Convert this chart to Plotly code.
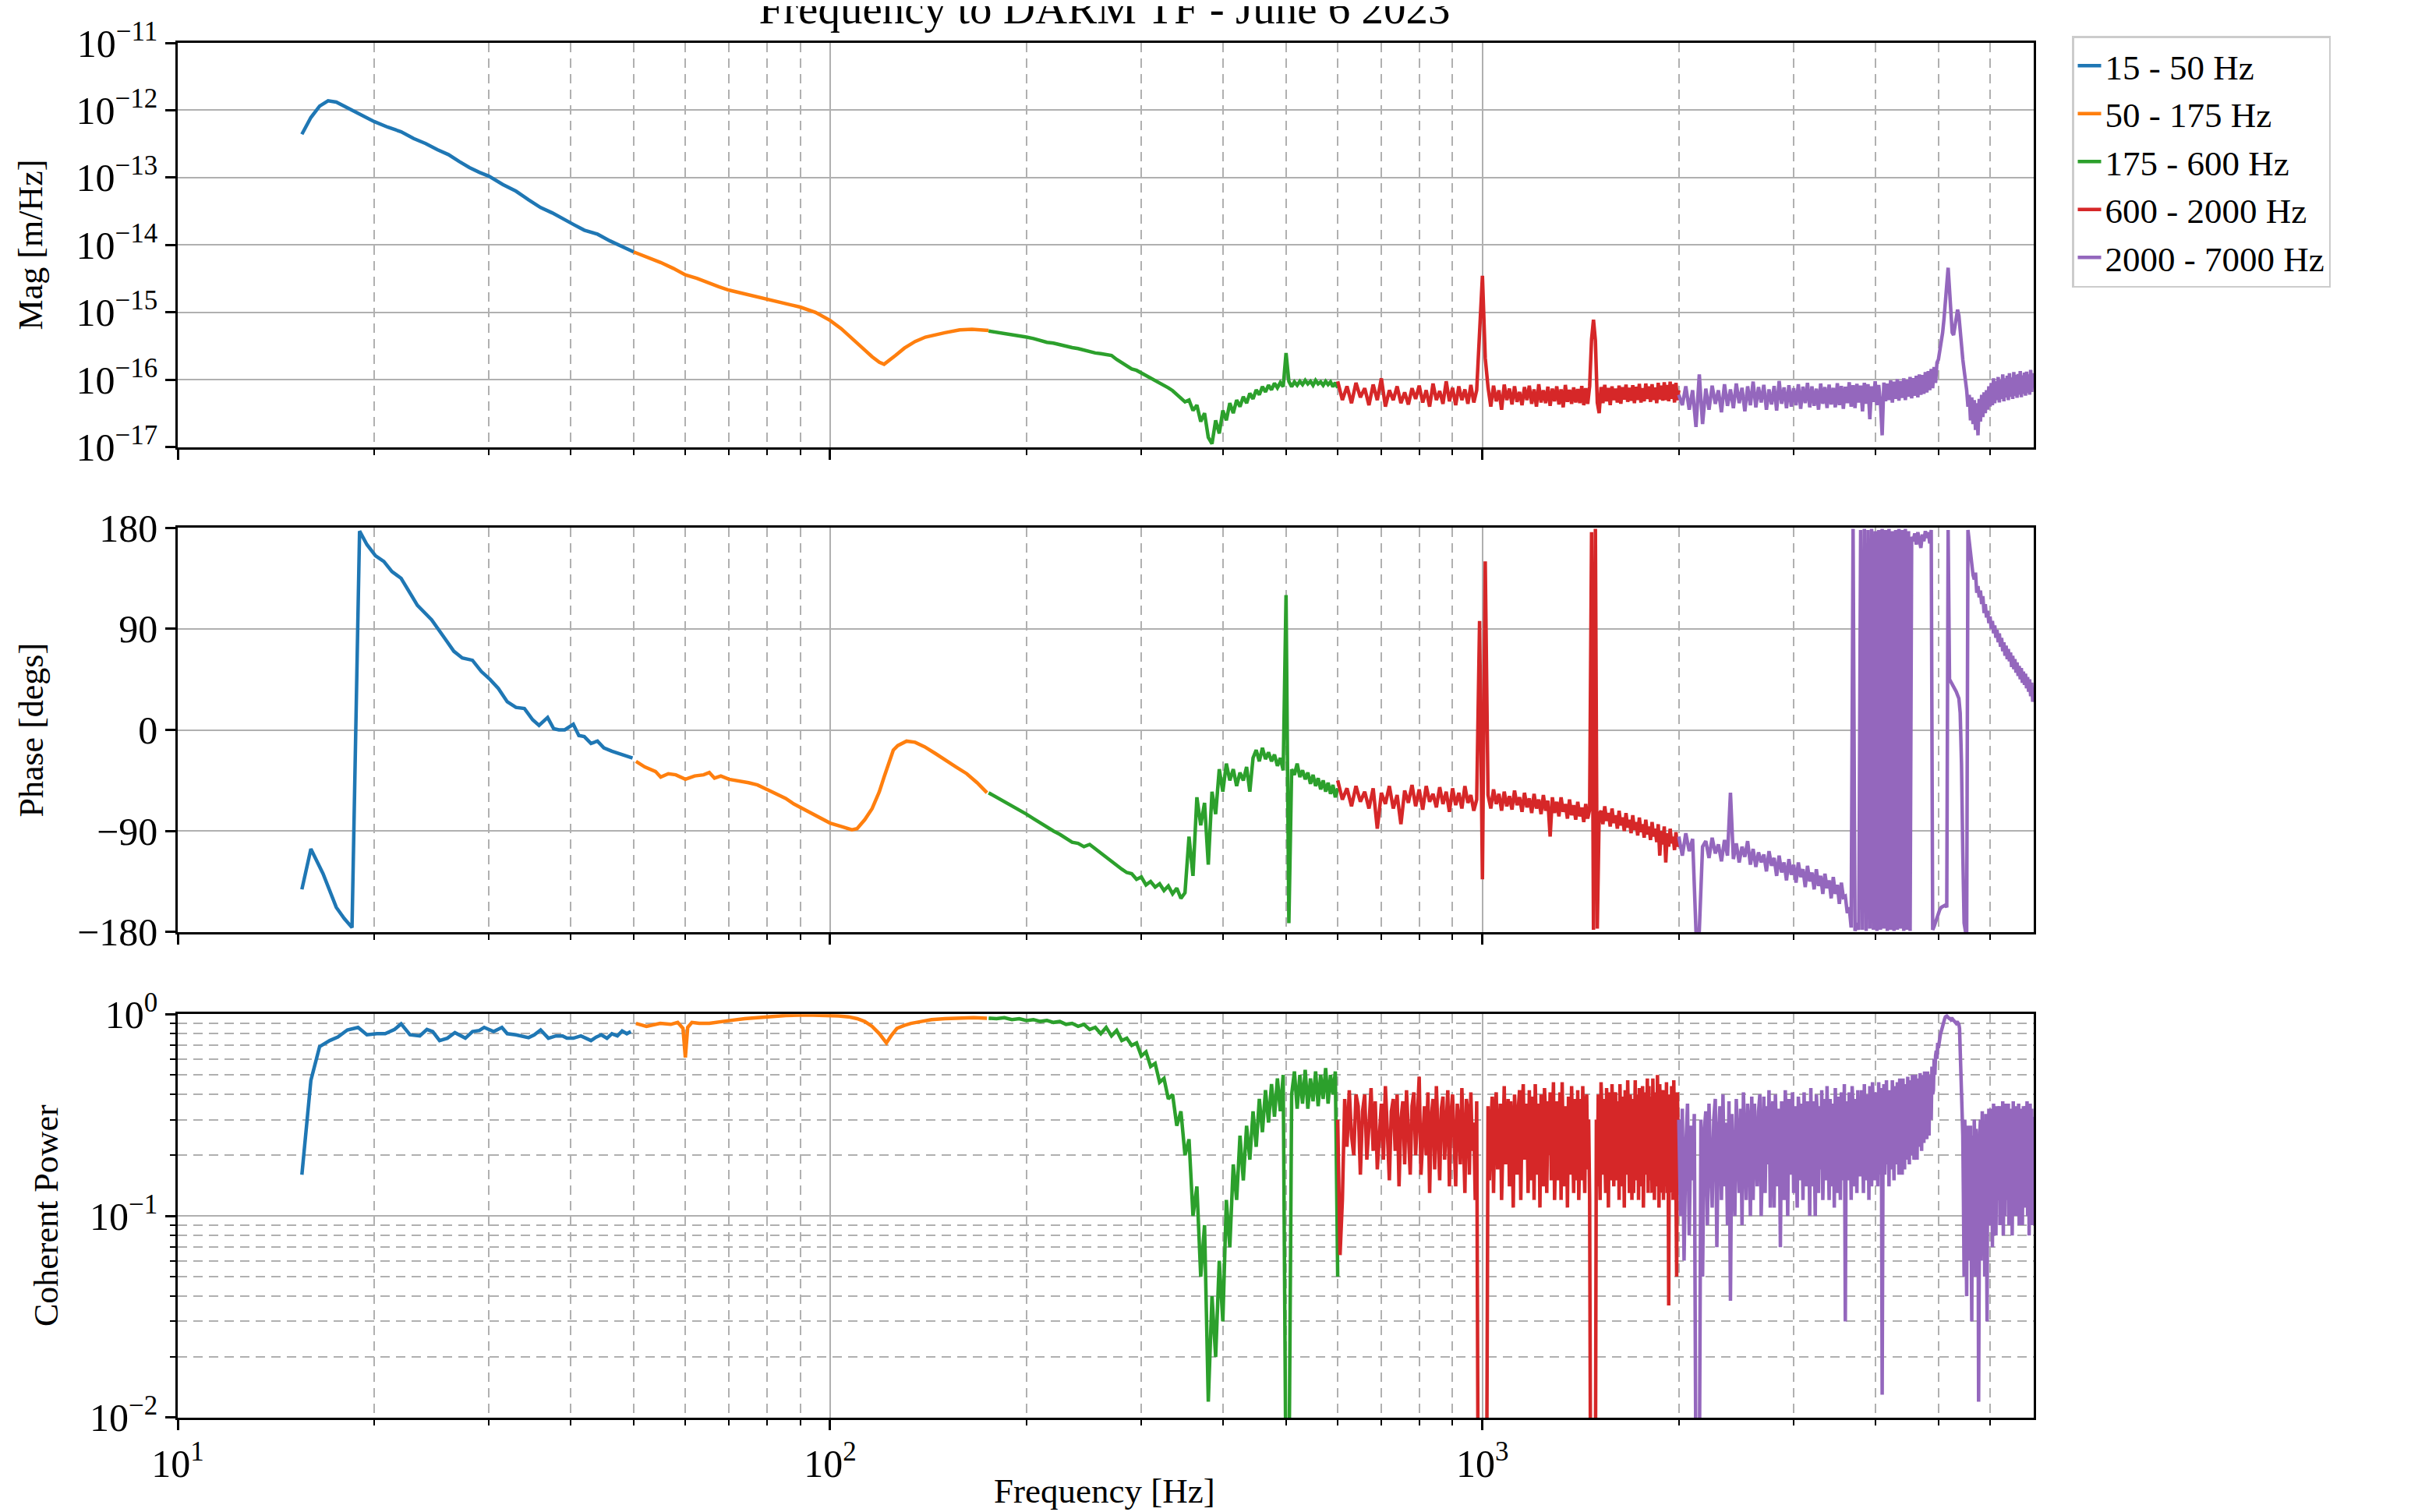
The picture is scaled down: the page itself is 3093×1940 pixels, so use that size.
import numpy as np
import plotly.graph_objects as go
from plotly.subplots import make_subplots

TITLE = "Frequency to DARM TF - June 6 2023"
BANDS = ["15 - 50 Hz", "50 - 175 Hz", "175 - 600 Hz", "600 - 2000 Hz", "2000 - 7000 Hz"]
COLORS = ["#1f77b4", "#ff7f0e", "#2ca02c", "#d62728", "#9467bd"]

# ---------------- 15 - 50 Hz (sparse points) ----------------
B_MAG_F = [15.5, 16.0, 16.5, 17.0, 17.5, 18.0, 18.5, 19.0, 20.0, 21.0, 22.0, 23.0, 24.0, 25.0, 26.0,
           27.0, 28.0, 29.0, 30.0, 31.5, 33.0, 34.5, 36.0, 37.5, 39.0, 40.5, 42.0, 44.0, 46.0, 48.0, 50.0]
B_MAG = [4.4e-13, 7.8e-13, 1.15e-12, 1.38e-12, 1.32e-12, 1.15e-12, 1.0e-12, 8.7e-13, 6.8e-13, 5.6e-13,
         4.8e-13, 3.8e-13, 3.2e-13, 2.6e-13, 2.2e-13, 1.74e-13, 1.41e-13, 1.2e-13, 1.05e-13, 7.9e-14,
         6.3e-14, 4.7e-14, 3.6e-14, 3.0e-14, 2.4e-14, 2.0e-14, 1.66e-14, 1.45e-14, 1.15e-14, 9.5e-15, 7.9e-15]
B_PH_F = [15.5, 16.0, 16.7, 17.5, 18.0, 18.5, 19.0, 19.5, 20.1, 20.7, 21.3, 22.0, 23.3, 24.5, 25.7, 26.5,
          27.3, 28.3, 29.2, 30.1, 31.0, 32.0, 33.0, 34.0, 35.0, 35.8, 36.9, 37.7, 38.4, 39.2, 40.4, 41.2,
          42.0, 43.0, 44.0, 45.0, 46.3, 47.5, 49.8]
B_PH = [-142, -106, -128, -158, -168, -176, 177, 165, 155, 150, 141, 135, 111, 98, 81, 70,
        64, 62, 52, 45, 37, 25, 20, 19, 9, 4, 11, 1, 0, 0, 5, -5,
        -6, -12, -10, -16, -19, -21, -25]
B_COH_F = [15.5, 16.0, 16.5, 17.1, 17.6, 18.2, 18.9, 19.5, 20.2, 20.8, 21.5, 22.0, 22.7, 23.5, 24.1,
           24.6, 25.2, 25.9, 26.6, 27.6, 28.3, 29.0, 29.5, 30.5, 31.4, 32.0, 33.0, 34.5, 35.2, 36.0,
           37.0, 38.0, 38.9, 39.5, 40.4, 41.5, 43.0, 43.8, 44.6, 45.5, 46.3, 47.2, 48.0, 48.8, 49.5]
B_COH = [0.16, 0.47, 0.69, 0.74, 0.77, 0.835, 0.86, 0.79, 0.80, 0.80, 0.84, 0.895, 0.79, 0.78, 0.84,
         0.82, 0.74, 0.76, 0.81, 0.76, 0.82, 0.83, 0.86, 0.82, 0.86, 0.80, 0.79, 0.765, 0.79, 0.835,
         0.76, 0.78, 0.78, 0.76, 0.76, 0.78, 0.74, 0.77, 0.79, 0.76, 0.80, 0.78, 0.825, 0.80, 0.82]

# ---------------- 50 - 175 Hz ----------------
O_MAG_F = [50, 52.5, 55, 57.5, 60, 62.5, 65, 67.5, 70, 75, 80, 85, 90, 95, 100, 104, 108, 112, 116,
           119, 121, 123, 126, 130, 135, 140, 145, 150, 158, 165, 170, 175]
O_MAG = [7.9e-15, 6.6e-15, 5.5e-15, 4.5e-15, 3.6e-15, 3.2e-15, 2.75e-15, 2.4e-15, 2.14e-15, 1.82e-15,
         1.58e-15, 1.38e-15, 1.2e-15, 1.0e-15, 7.6e-16, 5.75e-16, 4.2e-16, 3.0e-16, 2.2e-16, 1.82e-16,
         1.7e-16, 1.9e-16, 2.3e-16, 2.95e-16, 3.7e-16, 4.3e-16, 4.7e-16, 5.0e-16, 5.5e-16, 5.6e-16,
         5.5e-16, 5.4e-16]
O_PH_F = [50.4, 52, 54, 55, 56.5, 58, 60, 62, 64, 65.3, 66.5, 68, 70, 72, 75, 77.4, 80, 83, 85.5, 88,
          92, 96, 100, 104, 108, 110, 113, 116, 119, 121, 123, 125, 127, 131, 135, 139.6, 145, 150,
          156, 162, 168, 174]
O_PH = [-28, -33, -37, -42, -39, -40, -44, -41, -40, -38, -43, -41, -44, -45, -47, -49, -53, -57, -61,
        -66, -72, -78, -83, -86, -89, -88, -80, -70, -55, -42, -30, -18, -14, -10, -11, -15, -21, -27,
        -33, -39, -47, -56]
O_COH_F = [50.4, 52.3, 54.9, 57, 58.4, 59.5, 60, 60.5, 61.4, 63, 65.3, 68, 70.2, 74, 77.4, 81, 85.5,
           92, 99, 103, 106.7, 110, 113, 116, 119, 121, 122, 124, 126.6, 130, 133, 138, 143, 150, 158,
           166, 174]
O_COH = [0.90, 0.87, 0.90, 0.89, 0.91, 0.85, 0.61, 0.86, 0.91, 0.90, 0.90, 0.92, 0.93, 0.95, 0.96,
         0.975, 0.985, 0.99, 0.985, 0.98, 0.97, 0.95, 0.92, 0.87, 0.80, 0.74, 0.72, 0.78, 0.85, 0.88,
         0.90, 0.92, 0.94, 0.95, 0.96, 0.96, 0.955]

# ---------------- 175 - 600 Hz (5 Hz bins) ----------------
G_F0, G_F1 = 175, 600
G_MAG_E17 = [53, 51, 49, 47, 45, 43, 41, 38, 36, 35,
             33, 32, 30, 29, 27.5, 26, 25, 24.5, 24, 23,
             20, 17.8, 15.8, 14.5, 13.8, 12.6, 11.7, 10.7, 10.0, 8.9,
             8.3, 7.6, 6.9, 6.0, 5.4, 4.7, 5.0, 3.5, 4.2, 2.4,
             3.2, 1.4, 1.12, 2.5, 1.6, 3.5, 2.5, 4.5, 3.2, 5.0,
             4.0, 5.6, 4.5, 6.3, 5.2, 7.1, 6.0, 7.9, 6.6, 8.3,
             7.1, 8.9, 7.6, 9.1, 7.9, 25, 9.5, 7.9, 9.3, 8.3,
             9.5, 8.5, 9.8, 8.7, 9.5, 8.3, 9.8, 8.7, 9.3, 8.3,
             9.5, 8.5, 9.3, 7.9, 9.1, 7.6]
G_PH = [-56, -60, -64, -68, -71, -75, -79, -83, -86, -90,
        -93, -97, -100, -101, -104, -102, -106, -110, -113, -117,
        -121, -124, -127, -128, -133, -131, -138, -135, -140, -137,
        -143, -139, -146, -141, -150, -145, -95, -130, -60, -85,
        -65, -120, -55, -75, -35, -55, -30, -45, -35, -50,
        -38, -45, -33, -55, -25, -18, -28, -16, -26, -20,
        -28, -22, -32, -25, -36, 120, -172, -35, -40, -30,
        -42, -36, -44, -38, -48, -40, -50, -43, -53, -45,
        -55, -47, -57, -49, -60, -52]
G_COH = [0.955, 0.95, 0.96, 0.94, 0.95, 0.93, 0.94, 0.92, 0.93, 0.91,
         0.92, 0.89, 0.90, 0.87, 0.89, 0.84, 0.86, 0.80, 0.86, 0.78,
         0.83, 0.74, 0.76, 0.70, 0.72, 0.62, 0.65, 0.55, 0.57, 0.46,
         0.48, 0.38, 0.40, 0.28, 0.33, 0.20, 0.24, 0.10, 0.14, 0.05,
         0.09, 0.012, 0.04, 0.02, 0.06, 0.03, 0.12, 0.07, 0.18, 0.12,
         0.25, 0.15, 0.28, 0.19, 0.33, 0.22, 0.38, 0.26, 0.42, 0.29,
         0.45, 0.31, 0.48, 0.33, 0.50, 0.004, 0.004, 0.40, 0.52, 0.34,
         0.50, 0.36, 0.53, 0.34, 0.48, 0.37, 0.52, 0.35, 0.50, 0.38,
         0.54, 0.36, 0.50, 0.40, 0.52, 0.05]

# ---------------- 600 - 2000 Hz (mag/phase: 10 Hz bins, coherence: 5 Hz bins) ----------------
R_F0, R_F1 = 600, 2000
R_MAG_E17 = [9.5, 5.0, 8.0, 4.5, 9.0, 5.5, 7.5, 4.2, 8.5, 5.0,
             10.5, 4.0, 7.0, 5.0, 8.0, 4.5, 6.5, 4.3, 7.5, 5.2,
             8.2, 4.6, 7.0, 4.0, 8.8, 5.0, 6.8, 4.4, 9.5, 4.8,
             7.6, 4.2, 8.0, 5.0, 7.2, 4.4, 8.4, 4.6, 7.0, 50,
             350, 21, 7.8, 4.0, 8.2, 4.8, 7.0, 3.6, 8.5, 5.0,
             7.4, 4.3, 8.0, 4.7, 6.6, 4.2, 7.8, 5.0, 8.2, 4.4,
             7.2, 4.0, 8.6, 4.6, 7.0, 4.5, 7.9, 4.1, 7.4, 4.8,
             8.0, 4.3, 7.2, 3.9, 8.4, 4.7, 7.1, 4.4, 7.7, 4.6,
             7.3, 4.5, 8.1, 4.2, 7.5, 4.4, 8.0, 40, 78, 38,
             4.6, 3.2, 7.8, 4.5, 8.4, 4.8, 7.6, 4.2, 8.0, 5.0,
             7.4, 4.6, 8.2, 4.4, 7.8, 5.1, 8.5, 4.7, 7.6, 4.9,
             8.3, 4.5, 7.9, 5.0, 8.7, 4.6, 7.5, 4.8, 8.8, 5.2,
             8.0, 4.7, 8.6, 5.0, 7.7, 4.5, 9.0, 5.1, 8.2, 4.9,
             9.2, 5.0, 8.4, 4.8, 9.4, 5.2, 8.6, 4.6, 9.0, 5.0,
             7.0]
R_PH = [-45, -62, -52, -68, -50, -64, -55, -70, -52, -88,
        -56, -66, -50, -70, -58, -84, -54, -65, -49, -68,
        -53, -71, -50, -64, -57, -69, -51, -66, -55, -73,
        -52, -67, -56, -70, -50, -65, -58, -72, -62, 97,
        -133, 150, -58, -70, -53, -66, -57, -72, -55, -68,
        -59, -71, -54, -67, -60, -73, -56, -69, -61, -74,
        -57, -70, -62, -75, -58, -72, -63, -95, -60, -74,
        -64, -77, -60, -73, -66, -79, -62, -76, -67, -80,
        -64, -77, -69, -82, -66, -79, -71, 176, -178, 179,
        -177, -75, -72, -84, -68, -81, -74, -86, -70, -83,
        -76, -88, -72, -85, -78, -90, -74, -87, -80, -92,
        -76, -89, -82, -94, -78, -91, -84, -96, -80, -93,
        -86, -98, -82, -95, -88, -100, -84, -112, -90, -102,
        -86, -118, -92, -104, -88, -101, -95, -107, -91, -104,
        -100]
R_COH = [0.30, 0.064, 0.12, 0.38, 0.22, 0.42, 0.25, 0.20, 0.40, 0.35, 0.16, 0.33, 0.40, 0.19, 0.28, 0.43, 0.21, 0.37, 0.17, 0.24,
         0.36, 0.19, 0.44, 0.26, 0.15, 0.33, 0.38, 0.21, 0.40, 0.14, 0.30, 0.37, 0.18, 0.42, 0.23, 0.16, 0.35, 0.41, 0.20, 0.29,
         0.49, 0.16, 0.27, 0.35, 0.20, 0.41, 0.13, 0.31, 0.38, 0.17, 0.44, 0.24, 0.15, 0.34, 0.39, 0.19, 0.27, 0.42, 0.14, 0.32,
         0.40, 0.22, 0.14, 0.36, 0.30, 0.18, 0.43, 0.25, 0.13, 0.38, 0.33, 0.16, 0.41, 0.21, 0.29, 0.12, 0.37, 0.004, 0.004, 0.004,
         0.004, 0.004, 0.004, 0.004, 0.35, 0.15, 0.27, 0.39, 0.13, 0.33, 0.41, 0.17, 0.24, 0.36, 0.12, 0.30, 0.44, 0.18, 0.26, 0.38,
         0.14, 0.37, 0.25, 0.11, 0.40, 0.29, 0.16, 0.34, 0.42, 0.12, 0.31, 0.45, 0.19, 0.27, 0.36, 0.13, 0.42, 0.23, 0.15, 0.39,
         0.12, 0.45, 0.28, 0.16, 0.36, 0.11, 0.40, 0.24, 0.14, 0.43, 0.31, 0.13, 0.37, 0.20, 0.41, 0.15, 0.33, 0.46, 0.12, 0.28,
         0.37, 0.15, 0.25, 0.41, 0.12, 0.46, 0.22, 0.14, 0.35, 0.30, 0.11, 0.39, 0.26, 0.16, 0.44, 0.21, 0.13, 0.38, 0.32, 0.15,
         0.42, 0.12, 0.29, 0.38, 0.15, 0.44, 0.23, 0.13, 0.36, 0.40, 0.17, 0.30, 0.12, 0.004, 0.004, 0.004, 0.004, 0.004, 0.004, 0.30,
         0.14, 0.40, 0.25, 0.12, 0.46, 0.33, 0.16, 0.38, 0.22, 0.13, 0.43, 0.29, 0.11, 0.41, 0.35, 0.15, 0.45, 0.20, 0.14, 0.39,
         0.41, 0.15, 0.31, 0.37, 0.12, 0.45, 0.24, 0.14, 0.39, 0.28, 0.11, 0.42, 0.34, 0.16, 0.47, 0.21, 0.13, 0.40, 0.30, 0.12,
         0.38, 0.13, 0.27, 0.47, 0.15, 0.40, 0.33, 0.12, 0.43, 0.22, 0.14, 0.36, 0.44, 0.11, 0.31, 0.41, 0.16, 0.25, 0.48, 0.13,
         0.44, 0.15, 0.29, 0.39, 0.13, 0.48, 0.26, 0.12, 0.41, 0.35, 0.14, 0.50, 0.23, 0.11, 0.45, 0.30, 0.13, 0.42, 0.37, 0.12,
         0.42, 0.14, 0.31, 0.46, 0.13, 0.36, 0.036, 0.40, 0.25, 0.13, 0.44, 0.33, 0.12, 0.47, 0.22, 0.38, 0.14, 0.05, 0.41, 0.26,
         0.30]

# ---------------- 2000 - 7000 Hz (mag/phase: 25 Hz bins, coherence: 12.5 Hz bins) ----------------
P_F0, P_F1 = 2000, 7000
P_MAG_E17 = [6.0, 4.2, 8.0, 3.6, 7.0, 2.0, 12, 2.2,
             7.4, 3.6, 8.2, 4.4, 7.0, 3.3, 8.6, 4.1,
             7.2, 3.8, 8.8, 4.5, 7.6, 3.4, 8.0, 4.2,
             9.4, 3.9, 7.8, 4.6, 8.4, 3.6, 7.2, 4.3,
             8.1, 3.5, 9.6, 4.4, 7.7, 3.8, 8.3, 4.0,
             7.5, 4.2, 8.6, 3.7, 7.9, 4.5, 9.0, 3.9,
             8.0, 4.1, 7.4, 3.6, 8.8, 4.4, 7.8, 3.8,
             8.5, 4.3, 7.6, 3.9, 8.9, 4.2, 8.1, 3.7,
             7.9, 4.5, 9.2, 4.0, 8.3, 3.8, 8.7, 4.6,
             8.2, 3.4, 9.0, 4.4, 8.6, 2.6, 8.0, 4.7,
             9.5, 4.2, 8.4, 4.6, 1.5, 9.1, 4.8, 8.8,
             5.0, 9.8, 4.6, 9.4, 5.2, 10.2, 4.9, 9.6,
             5.4, 10.5, 5.0, 10.0, 5.6, 11.0, 5.3, 10.6,
             5.8, 11.5, 5.5, 12.0, 6.0, 11.8, 6.2, 13.0,
             6.5, 13.5, 7.0, 14.5, 7.5, 15.5, 9.0, 18,
             20, 26, 35, 50, 80, 150, 300, 460,
             220, 90, 50, 46, 60, 80, 110, 90,
             50, 30, 20, 14, 10, 7.0, 4.0, 6.0,
             2.5, 5.5, 2.2, 5.0, 1.8, 4.5, 1.5, 5.2,
             2.4, 6.0, 2.8, 6.5, 3.2, 7.0, 3.6, 8.0,
             4.0, 9.0, 4.2, 10.5, 4.5, 9.5, 5.0, 11,
             4.6, 10, 5.2, 12, 4.8, 10.5, 5.5, 11.5,
             5.0, 12.5, 5.6, 10.8, 5.2, 13, 5.8, 11.8,
             5.4, 12.2, 6.0, 13.5, 5.5, 11.6, 6.2, 12.8,
             5.8, 13.2, 6.4, 12.0, 6.0, 14, 6.6, 12.5,
             9.0]
P_PH = [-95, -112, -92, -108, -97, -179, -179, -104,
        -99, -114, -96, -110, -102, -117, -98, -112,
        -56, -115, -101, -118, -104, -113, -99, -120,
        -106, -122, -109, -118, -111, -126, -108, -121,
        -114, -130, -112, -127, -118, -134, -115, -129,
        -120, -136, -118, -131, -124, -140, -121, -135,
        -127, -142, -124, -139, -130, -146, -128, -141,
        -134, -150, -131, -146, -138, -155, -136, -149,
        -148, -163, -158, -176, 179, -179, -172, -178,
        178, -178, 179, -179, 178, -177, 179, -178,
        177, -179, 178, -178, 179, -177, 178, -179,
        179, -178, 177, -179, 178, -178, 179, -177,
        178, -179, 179, -178, 177, -179, 172, 168,
        175, 165, 176, 170, 162, 174, 168, 177,
        171, 176, 166, 178, -178, -175, -171, -166,
        -163, -160, -158, -157, -156, -156, -158, 178,
        45, 43, 41, 39, 37, 34, 31, 28,
        15, -30, -110, -172, -179, -179, 178, 166,
        158, 150, 138, 134, 140, 122, 128, 118,
        124, 112, 119, 104, 112, 100, 106, 95,
        101, 90, 97, 86, 93, 82, 89, 78,
        86, 74, 82, 70, 78, 66, 75, 63,
        72, 61, 69, 56, 66, 54, 63, 51,
        60, 48, 57, 45, 55, 42, 52, 40,
        50, 37, 47, 34, 45, 30, 42, 25,
        35]
P_COH = [0.30, 0.10, 0.34, 0.06, 0.22, 0.36, 0.08, 0.28, 0.15, 0.32, 0.004, 0.004, 0.004, 0.30, 0.05, 0.26,
         0.33, 0.09, 0.36, 0.18, 0.11, 0.30, 0.38, 0.07, 0.25, 0.35, 0.12, 0.40, 0.14, 0.29, 0.09, 0.37,
         0.038, 0.32, 0.16, 0.10, 0.38, 0.24, 0.13, 0.34, 0.09, 0.41, 0.20, 0.12, 0.36, 0.28, 0.10, 0.39,
         0.12, 0.36, 0.22, 0.14, 0.33, 0.40, 0.10, 0.27, 0.39, 0.13, 0.35, 0.18, 0.42, 0.11, 0.30, 0.37,
         0.11, 0.40, 0.25, 0.14, 0.34, 0.07, 0.37, 0.21, 0.12, 0.42, 0.29, 0.10, 0.38, 0.16, 0.33, 0.41,
         0.13, 0.35, 0.24, 0.11, 0.39, 0.30, 0.15, 0.36, 0.12, 0.41, 0.20, 0.14, 0.37, 0.27, 0.10, 0.43,
         0.14, 0.37, 0.22, 0.10, 0.40, 0.31, 0.13, 0.35, 0.17, 0.42, 0.12, 0.29, 0.38, 0.15, 0.44, 0.23,
         0.12, 0.38, 0.26, 0.14, 0.36, 0.11, 0.43, 0.19, 0.13, 0.39, 0.32, 0.12, 0.41, 0.24, 0.15, 0.45,
         0.03, 0.37, 0.21, 0.15, 0.41, 0.28, 0.12, 0.44, 0.34, 0.14, 0.38, 0.19, 0.13, 0.42, 0.30, 0.16,
         0.16, 0.42, 0.27, 0.13, 0.45, 0.22, 0.15, 0.40, 0.33, 0.12, 0.44, 0.25, 0.14, 0.46, 0.30, 0.17,
         0.15, 0.41, 0.26, 0.14, 0.46, 0.31, 0.16, 0.43, 0.013, 0.22, 0.45, 0.16, 0.35, 0.47, 0.18, 0.29,
         0.14, 0.42, 0.31, 0.17, 0.47, 0.24, 0.15, 0.44, 0.36, 0.18, 0.46, 0.27, 0.16, 0.48, 0.33, 0.19,
         0.16, 0.48, 0.29, 0.17, 0.45, 0.38, 0.19, 0.49, 0.26, 0.18, 0.47, 0.35, 0.20, 0.50, 0.30, 0.19,
         0.20, 0.50, 0.34, 0.19, 0.48, 0.28, 0.22, 0.51, 0.39, 0.21, 0.50, 0.31, 0.23, 0.52, 0.40, 0.24,
         0.24, 0.52, 0.36, 0.25, 0.50, 0.42, 0.30, 0.55, 0.40, 0.42, 0.60, 0.50, 0.62, 0.66, 0.60, 0.72,
         0.68, 0.74, 0.75, 0.80, 0.82, 0.85, 0.88, 0.91, 0.93, 0.95, 0.97, 0.98, 0.98, 0.97, 0.96, 0.96,
         0.95, 0.95, 0.94, 0.95, 0.95, 0.94, 0.93, 0.93, 0.92, 0.91, 0.90, 0.91, 0.91, 0.90, 0.89, 0.85,
         0.65, 0.55, 0.40, 0.33, 0.25, 0.12, 0.05, 0.30, 0.22, 0.08, 0.04, 0.28, 0.26, 0.10, 0.06, 0.24,
         0.28, 0.09, 0.03, 0.25, 0.15, 0.07, 0.30, 0.20, 0.05, 0.27, 0.22, 0.08, 0.18, 0.012, 0.20, 0.26,
         0.30, 0.06, 0.22, 0.33, 0.08, 0.18, 0.28, 0.05, 0.25, 0.32, 0.09, 0.03, 0.30, 0.15, 0.34, 0.10,
         0.34, 0.09, 0.25, 0.31, 0.07, 0.20, 0.36, 0.10, 0.28, 0.30, 0.08, 0.22, 0.35, 0.12, 0.27, 0.33,
         0.35, 0.09, 0.24, 0.33, 0.11, 0.30, 0.37, 0.08, 0.22, 0.32, 0.10, 0.29, 0.36, 0.12, 0.26, 0.34,
         0.36, 0.09, 0.27, 0.34, 0.12, 0.21, 0.31, 0.08, 0.30, 0.37, 0.11, 0.25, 0.33, 0.10, 0.28, 0.35,
         0.33, 0.10, 0.26, 0.36, 0.09, 0.24, 0.34, 0.12, 0.29, 0.30, 0.09, 0.22, 0.35, 0.11, 0.27, 0.32,
         0.35, 0.11, 0.28, 0.37, 0.10, 0.23, 0.33, 0.08, 0.26, 0.36, 0.12, 0.30, 0.34, 0.09, 0.25, 0.31,
         0.09]

X_MAJOR = [10, 100, 1000]
X_MAJOR_TEXT = ["10<sup>1</sup>", "10<sup>2</sup>", "10<sup>3</sup>"]
X_MINOR = [20, 30, 40, 50, 60, 70, 80, 90, 200, 300, 400, 500, 600, 700, 800, 900,
           2000, 3000, 4000, 5000, 6000]
MAG_TICKS = [1e-17, 1e-16, 1e-15, 1e-14, 1e-13, 1e-12, 1e-11]
MAG_TEXT = ["10<sup>\u221217</sup>", "10<sup>\u221216</sup>", "10<sup>\u221215</sup>",
            "10<sup>\u221214</sup>", "10<sup>\u221213</sup>", "10<sup>\u221212</sup>",
            "10<sup>\u221211</sup>"]
PH_TICKS = [-180, -90, 0, 90, 180]
PH_TEXT = ["\u2212180", "\u221290", "0", "90", "180"]
COH_TICKS = [0.01, 0.1, 1.0]
COH_TEXT = ["10<sup>\u22122</sup>", "10<sup>\u22121</sup>", "10<sup>0</sup>"]
COH_MINOR = [0.02, 0.03, 0.04, 0.05, 0.06, 0.07, 0.08, 0.09, 0.2, 0.3, 0.4, 0.5, 0.6, 0.7, 0.8, 0.9]


def grid(f0, f1, vals):
    # uniformly spaced measurement bins spanning the band
    return np.linspace(f0, f1, len(vals))


g_mag = np.array(G_MAG_E17) * 1e-17
r_mag = np.array(R_MAG_E17) * 1e-17
p_mag = np.array(P_MAG_E17) * 1e-17

SERIES = [
    (B_MAG_F, B_MAG, B_PH_F, B_PH, B_COH_F, B_COH),
    (O_MAG_F, O_MAG, O_PH_F, O_PH, O_COH_F, O_COH),
    (grid(G_F0, G_F1, G_MAG_E17), g_mag, grid(G_F0, G_F1, G_PH), G_PH, grid(G_F0, G_F1, G_COH), G_COH),
    (grid(R_F0, R_F1, R_MAG_E17), r_mag, grid(R_F0, R_F1, R_PH), R_PH, grid(R_F0, R_F1, R_COH), R_COH),
    (grid(P_F0, P_F1, P_MAG_E17), p_mag, grid(P_F0, P_F1, P_PH), P_PH, grid(P_F0, P_F1, P_COH), P_COH),
]

FONT = "Liberation Serif"
LW = 4.5

fig = make_subplots(rows=3, cols=1, shared_xaxes=True)
for i, (mf, mv, pf, pv, cf, cv) in enumerate(SERIES):
    for row, (xf, yv) in enumerate([(mf, mv), (pf, pv), (cf, cv)], start=1):
        fig.add_trace(go.Scatter(x=list(xf), y=list(yv), mode="lines", name=BANDS[i],
                                 legendgroup=BANDS[i], showlegend=(row == 1),
                                 line=dict(color=COLORS[i], width=LW)),
                      row=row, col=1)

W, H = 3093, 1940
L, R, T, B = 220, 492, 36, 129
PH_ = H - T - B
PW = W - L - R


def dom(top_px, bot_px):
    return [(H - B - bot_px) / PH_, (H - B - top_px) / PH_]


GRID = "#b0b0b0"
TICKFONT = dict(family=FONT, size=50, color="black")
common_x = dict(type="log", range=[1, np.log10(7000)], tickvals=X_MAJOR, ticktext=X_MAJOR_TEXT,
                ticks="outside", ticklen=13, tickwidth=2.5, tickcolor="black",
                showline=True, mirror=True, linecolor="black", linewidth=2.5,
                showgrid=True, gridcolor=GRID, gridwidth=2, zeroline=False,
                tickfont=TICKFONT,
                minor=dict(tickvals=X_MINOR, ticks="outside", ticklen=7, tickwidth=2,
                           tickcolor="black", showgrid=True, gridcolor=GRID, gridwidth=2,
                           griddash="12px,8px"))
common_y = dict(ticks="outside", ticklen=13, tickwidth=2.5, tickcolor="black",
                showline=True, mirror=True, linecolor="black", linewidth=2.5,
                showgrid=True, gridcolor=GRID, gridwidth=2, zeroline=False, tickfont=TICKFONT)

fig.update_layout(
    width=W, height=H, margin=dict(l=L, r=R, t=T, b=B),
    paper_bgcolor="white", plot_bgcolor="white",
    font=dict(family=FONT, color="black"),
    title=dict(text=TITLE, x=1409 / W, xanchor="center", y=1 - 2 / H, yanchor="middle",
               xref="container", yref="container", font=dict(family=FONT, size=57, color="black")),
    legend=dict(x=(2650 - L) / PW, y=(H - B - 27) / PH_, xanchor="left", yanchor="top",
                bgcolor="white", bordercolor="#cccccc", borderwidth=2.5,
                font=dict(family=FONT, size=45, color="black"), tracegroupgap=0),
    showlegend=True,
)
fig.update_layout(
    xaxis=dict(common_x, showticklabels=False),
    xaxis2=dict(common_x, showticklabels=False),
    xaxis3=dict(common_x, showticklabels=True),
    yaxis=dict(common_y, type="log", range=[-17, -11], domain=dom(36, 558),
               tickvals=MAG_TICKS, ticktext=MAG_TEXT),
    yaxis2=dict(common_y, range=[-180, 180], domain=dom(662, 1184),
                tickvals=PH_TICKS, ticktext=PH_TEXT),
    yaxis3=dict(common_y, type="log", range=[-2, 0], domain=dom(1290, 1811),
                tickvals=COH_TICKS, ticktext=COH_TEXT,
                minor=dict(tickvals=COH_MINOR, ticks="outside", ticklen=7, tickwidth=2,
                           tickcolor="black", showgrid=True, gridcolor=GRID, gridwidth=2,
                           griddash="12px,8px")),
)


def ylab(text, x_px, top_px, bot_px):
    fig.add_annotation(text=text, xref="paper", yref="paper", x=(x_px - L) / PW,
                       y=(H - B - (top_px + bot_px) / 2) / PH_, xanchor="center", yanchor="middle",
                       textangle=-90, showarrow=False, font=dict(family=FONT, size=44, color="black"))


ylab("Mag [m/Hz]", 31, 36, 558)
ylab("Phase [degs]", 33, 662, 1184)
ylab("Coherent Power", 51, 1290, 1811)
fig.add_annotation(text="Frequency [Hz]", xref="paper", yref="paper", x=(1409 - L) / PW,
                   y=(H - B - 1906) / PH_, xanchor="center", yanchor="middle", showarrow=False,
                   font=dict(family=FONT, size=45, color="black"))

fig.write_html("out.html")
